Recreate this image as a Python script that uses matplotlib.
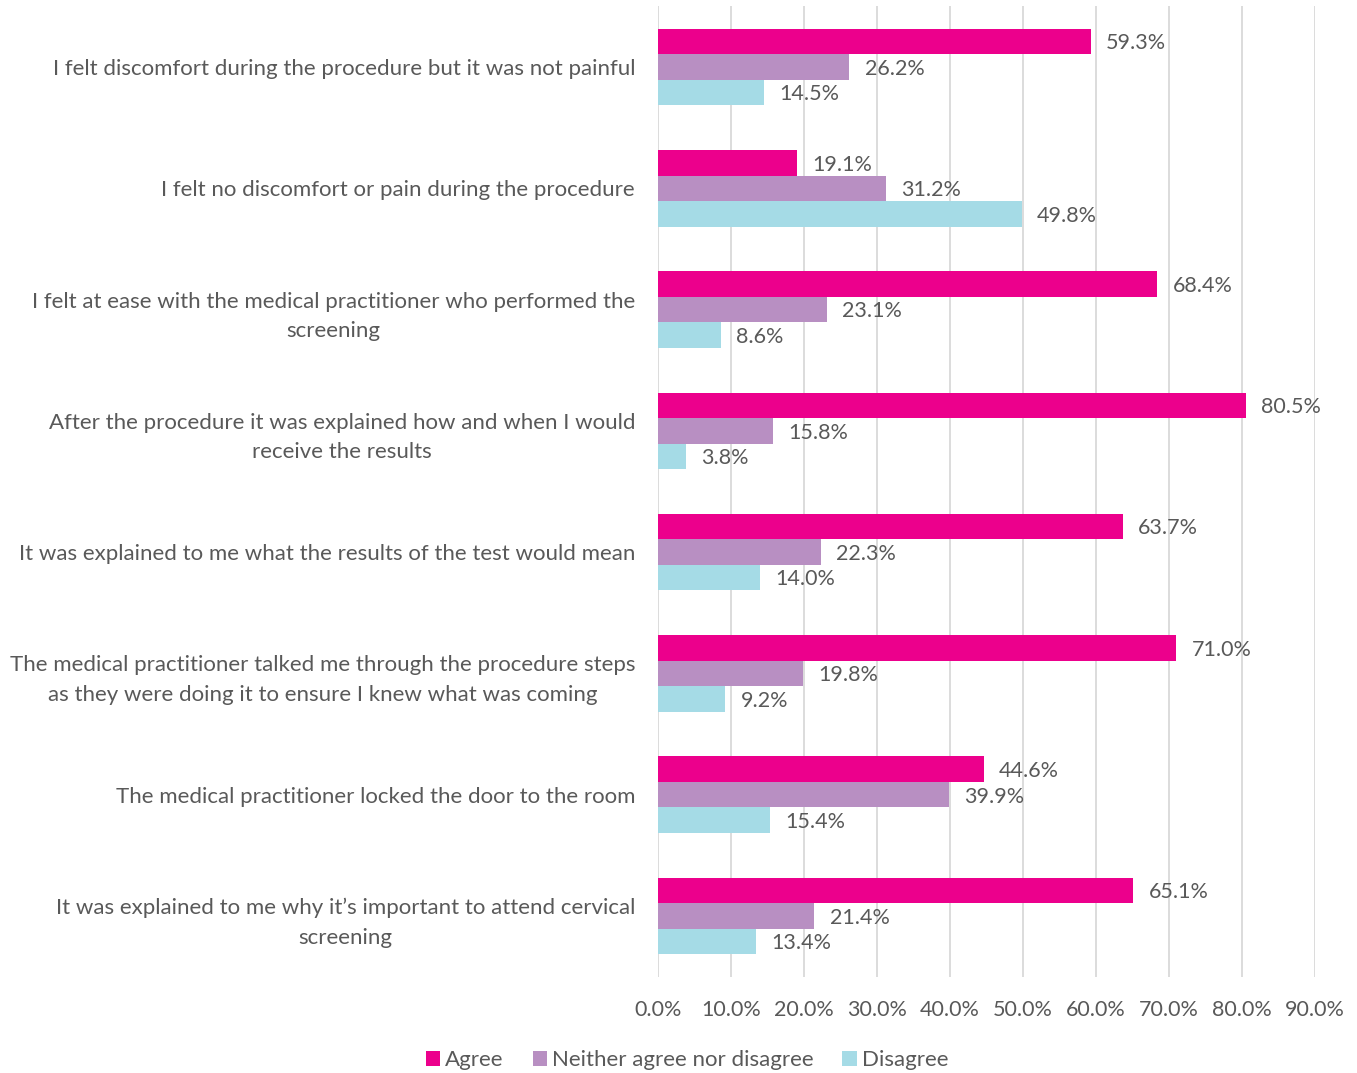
import matplotlib
matplotlib.use("Agg")
import matplotlib.pyplot as plt
import numpy as np
from matplotlib.patches import Patch

categories = [
    "I felt discomfort during the procedure but it was not painful",
    "I felt no discomfort or pain during the procedure",
    "I felt at ease with the medical practitioner who performed the\nscreening",
    "After the procedure it was explained how and when I would\nreceive the results",
    "It was explained to me what the results of the test would mean",
    "The medical practitioner talked me through the procedure steps\nas they were doing it to ensure I knew what was coming",
    "The medical practitioner locked the door to the room",
    "It was explained to me why it\u2019s important to attend cervical\nscreening",
]
agree = [59.3, 19.1, 68.4, 80.5, 63.7, 71.0, 44.6, 65.1]
neither = [26.2, 31.2, 23.1, 15.8, 22.3, 19.8, 39.9, 21.4]
disagree = [14.5, 49.8, 8.6, 3.8, 14.0, 9.2, 15.4, 13.4]
series_names = ["Agree", "Neither agree nor disagree", "Disagree"]
xticks = [0, 10, 20, 30, 40, 50, 60, 70, 80, 90]

colors = ["#EC008C", "#B88FC2", "#A5DBE6"]
text_color = "#595959"
FONT = "Lato"
plt.rcParams['font.family'] = [FONT, 'DejaVu Sans']

fig = plt.figure(figsize=(13.57, 10.73), dpi=100)
ax = fig.add_axes([658/1357, 1 - 976.6/1073, (1315-658)/1357, (976.6-6.4)/1073])

y = np.arange(len(categories))
h = 0.21
for i, (vals, c) in enumerate(zip([agree, neither, disagree], colors)):
    ypos = y + (i - 1) * h
    ax.barh(ypos, vals, height=h, color=c, zorder=2)
    for yy, v in zip(ypos, vals):
        ax.text(v + 2.1, yy + 0.015, f"{v:.1f}%", va="center", ha="left",
                fontsize=15.5, color=text_color, zorder=3)

ax.set_xlim(0, 90)
ax.set_ylim(len(categories) - 0.5, -0.5)
ax.set_xticks(xticks)
ax.set_xticklabels([f"{t:.1f}%" for t in xticks], fontsize=15.5, color=text_color)
ax.set_yticks(y)
ax.set_yticklabels(categories, fontsize=16, color=text_color, multialignment="center",
                   linespacing=1.6)
ax.tick_params(axis="both", length=0)
ax.tick_params(axis="x", pad=17)
ax.tick_params(axis="y", pad=16.5)
ax.grid(axis="x", color="#D9D9D9", linewidth=1.3, zorder=0)
for s in ax.spines.values():
    s.set_visible(False)

handles = [Patch(facecolor=c, edgecolor="none") for c in colors]
fig.legend(handles, series_names, loc="center", bbox_to_anchor=(687/1357, 1 - 1060/1073),
           ncol=3, frameon=False, fontsize=16, handlelength=0.65, handleheight=0.65,
           handletextpad=0.22, columnspacing=1.3, labelcolor=text_color)

fig.savefig("out.png", dpi=100)
